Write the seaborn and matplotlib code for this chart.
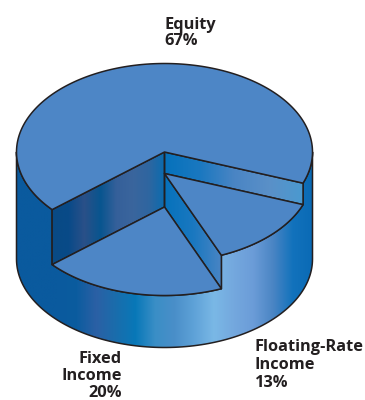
import numpy as np
import matplotlib
matplotlib.use("Agg")
import matplotlib.pyplot as plt
from matplotlib.patches import Polygon
from matplotlib.colors import to_rgb
import seaborn as sns

# data
categories = ["Equity", "Floating-Rate\nIncome", "Fixed\nIncome"]
shares = [67, 13, 20]
percent_labels = ["67%", "13%", "20%"]

# style
sns.set_theme(style="white")
plt.rcParams["font.family"] = ["Open Sans", "DejaVu Sans"]
TOP = "#4d86c6"
EDGE = "#231f20"
outer_stops = ["#0a5a9e", "#0a5a9e", "#0a5a9e", "#0b5c9f", "#2b60a5", "#1a6dac", "#0878b8", "#3a8ec6",
               "#4a8fc9", "#5fa2d8", "#7ab8e6", "#74a8de", "#6b9cd8", "#4a85c4", "#1272bc", "#0a6ab5"]
left_stops = ["#0a4a85", "#084a88", "#2a5088", "#08558f", "#35609a", "#3a659d", "#2f66a0", "#0a6cb0"]
right_stops = ["#0672bc", "#1a78c0", "#4a85c4", "#5a90c8", "#4a9ad0"]
gap_stops = ["#0672bc", "#1a78c0", "#4a85c4"]

cx, cy, rx, ry = 164.5, 152.0, 148.0, 88.5
depth_equity, depth_float, depth_fixed, depth_base = 0.0, 21.5, 55.0, 107.0
start_deg = -20.6

fig = plt.figure(figsize=(3.65, 4.0), dpi=100)
ax = fig.add_axes([0, 0, 1, 1])
ax.set_xlim(0, 365)
ax.set_ylim(400, 0)
ax.axis("off")


def rim(a0, a1, depth, n=120):
    t = np.radians(np.linspace(a0, a1, n))
    return np.column_stack([cx + rx * np.cos(t), cy - ry * np.sin(t) + depth])


def gradient(poly, stops, zorder):
    pts = np.asarray(poly)
    x0, x1 = pts[:, 0].min(), pts[:, 0].max()
    y0, y1 = pts[:, 1].min(), pts[:, 1].max()
    colors = np.array([to_rgb(c) for c in sns.blend_palette(stops, 256)])[None, :, :]
    im = ax.imshow(colors, extent=[x0, x1, y1, y0], aspect="auto", zorder=zorder, interpolation="bilinear")
    p = Polygon(pts, closed=True, facecolor="none", edgecolor=EDGE, lw=1.1, joinstyle="round", zorder=zorder + 0.5)
    ax.add_patch(p)
    im.set_clip_path(p)
    ax.set_xlim(0, 365)
    ax.set_ylim(400, 0)


def flat(poly, zorder):
    ax.add_patch(Polygon(poly, closed=True, facecolor=TOP, edgecolor=EDGE, lw=1.1, joinstyle="round", zorder=zorder))


# slice angles: clockwise from the start angle
a_equity_end = start_deg + shares[0] * 3.6
a_float_end = start_deg - shares[1] * 3.6
a_fixed_end = a_float_end - shares[2] * 3.6

centre = lambda d: np.array([[cx, cy + d]])

# outer wall
front_top_a = rim(180, a_fixed_end + 360, depth_equity)
front_top_b = rim(a_fixed_end, a_float_end, depth_fixed)
front_top_c = rim(a_float_end, start_deg, depth_float)
front_top_d = rim(start_deg, 0, depth_equity)
base = rim(0, -180, depth_base)
outline = np.vstack([front_top_a, front_top_b, front_top_c, front_top_d, base])
gradient(outline, outer_stops, 1)

# inner walls
p0 = rim(a_fixed_end, a_fixed_end, 0, 1)
left_wall = np.vstack([centre(depth_equity), p0, p0 + [0, depth_fixed], centre(depth_fixed)])
gradient(left_wall, left_stops, 3)

p1 = rim(start_deg, start_deg, 0, 1)
right_wall = np.vstack([centre(depth_equity), p1, p1 + [0, depth_float], centre(depth_float)])
gradient(right_wall, right_stops, 3)

p2 = rim(a_float_end, a_float_end, 0, 1)
gap_wall = np.vstack([centre(depth_float), p2 + [0, depth_float], p2 + [0, depth_fixed], centre(depth_fixed)])
gradient(gap_wall, gap_stops, 3)

# faces
flat(np.vstack([centre(depth_fixed), rim(a_fixed_end, a_float_end, depth_fixed)]), 5)
flat(np.vstack([centre(depth_float), rim(a_float_end, start_deg, depth_float)]), 5)
flat(np.vstack([centre(depth_equity), rim(start_deg, a_equity_end, depth_equity, 300)]), 6)

# labels
label_kw = dict(fontsize=11.8, fontweight="bold", color="#231f20", va="baseline", zorder=10)
for i, y in enumerate([29, 45]):
    ax.text(164, y, [categories[0], percent_labels[0]][i], ha="left", **label_kw)
for line, y in zip(categories[1].split("\n") + [percent_labels[1]], [351, 369, 387]):
    ax.text(255, y, line, ha="left", **label_kw)
for line, y in zip(categories[2].split("\n") + [percent_labels[2]], [363, 380, 397]):
    ax.text(122, y, line, ha="right", **label_kw)

fig.savefig("out.png", dpi=100, facecolor="white")
